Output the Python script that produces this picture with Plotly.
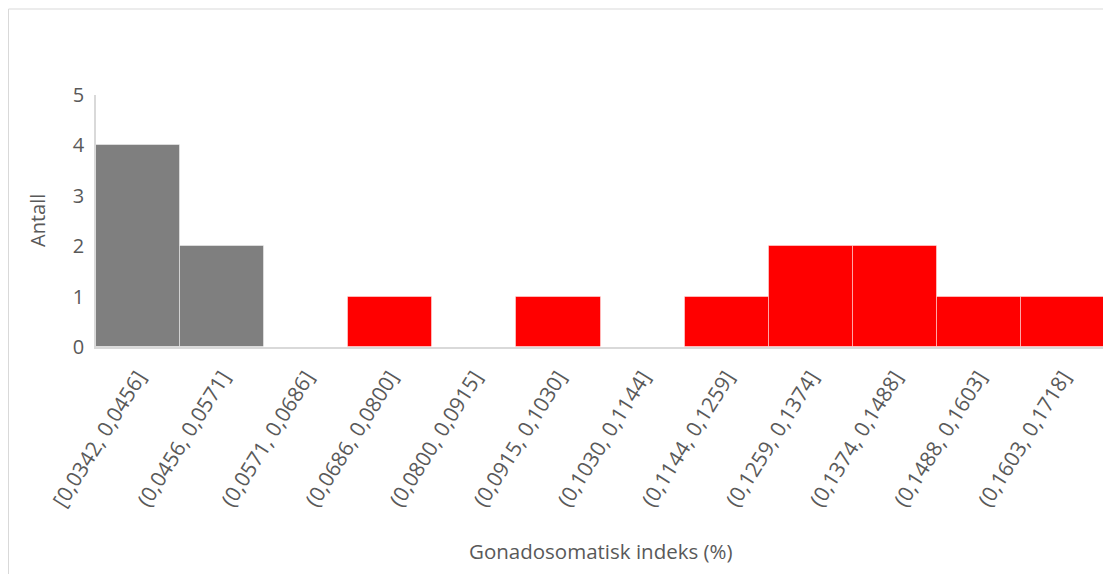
import plotly.graph_objects as go

# Histogram bins (Excel-style labels) and counts
bins = ["[0,0342, 0,0456]", "(0,0456, 0,0571]", "(0,0571, 0,0686]", "(0,0686, 0,0800]",
        "(0,0800, 0,0915]", "(0,0915, 0,1030]", "(0,1030, 0,1144]", "(0,1144, 0,1259]",
        "(0,1259, 0,1374]", "(0,1374, 0,1488]", "(0,1488, 0,1603]", "(0,1603, 0,1718]"]
counts = [4, 2, 0, 1, 0, 1, 0, 1, 2, 2, 1, 1]
groups = ["grå", "grå", "rød", "rød", "rød", "rød", "rød", "rød", "rød", "rød", "rød", "rød"]

group_colors = {"grå": "#7f7f7f", "rød": "#ff0000"}
TEXT = "#595959"
FONT = "Open Sans, Liberation Sans, sans-serif"

fig = go.Figure(go.Bar(
    x=bins, y=counts,
    marker=dict(color=[group_colors[g] for g in groups],
                line=dict(color="rgba(255,255,255,0.45)", width=1)),
    hoverinfo="x+y",
))

# page body adds an 8px offset, so the figure is a bit smaller than the window
W, H = 1103, 566
L, R, T, B = 88, 6, 87, 227
pw, ph = W - L - R, H - T - B

def px_x(x):
    return (x - L) / pw

def px_y(y):
    return (H - B - y) / ph

fig.update_layout(
    width=W, height=H,
    margin=dict(l=L, r=R, t=T, b=B),
    paper_bgcolor="white", plot_bgcolor="white",
    font=dict(family=FONT, color=TEXT, size=20),
    bargap=0, showlegend=False,
    xaxis=dict(type="category", tickangle=-58, showgrid=False, showline=True,
               linecolor="#d9d9d9", linewidth=1.5, ticks="", tickfont=dict(size=21),
               ticklabelstandoff=8, fixedrange=True),
    yaxis=dict(range=[0, 5], dtick=1, showgrid=False, showline=True,
               linecolor="#d9d9d9", linewidth=1.5, ticks="", zeroline=False,
               tickfont=dict(size=20), ticklabelstandoff=6, fixedrange=True),
    shapes=[dict(type="rect", xref="paper", yref="paper",
                 x0=px_x(0.5), x1=px_x(1120), y0=px_y(590), y1=px_y(1),
                 line=dict(color="#d9d9d9", width=1), layer="below")],
    annotations=[
        dict(text="Gonadosomatisk indeks (%)", xref="paper", yref="paper",
             x=0.5, y=px_y(543), showarrow=False, font=dict(size=20.5),
             xanchor="center", yanchor="middle"),
        dict(text="Antall", xref="paper", yref="paper", textangle=-90,
             x=px_x(29), y=0.5, showarrow=False, font=dict(size=20),
             xanchor="center", yanchor="middle"),
    ],
)

fig.write_html("out.html")
